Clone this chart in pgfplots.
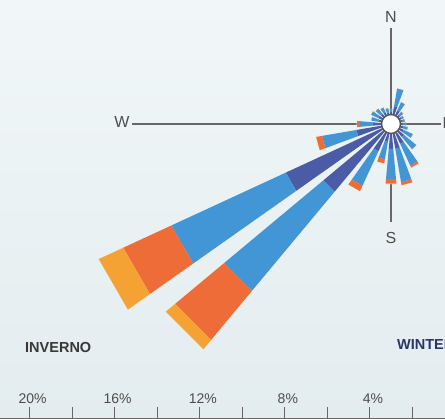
\documentclass[border=0pt]{standalone}
\usepackage{pgfplots}
\pgfplotsset{compat=1.18}
\usepackage{fontspec}
\setmainfont{Liberation Sans}
\definecolor{cdb}{HTML}{4A5CA6}
\definecolor{clb}{HTML}{4396D6}
\definecolor{cro}{HTML}{EE6C38}
\definecolor{cor}{HTML}{F5A234}
\definecolor{halo}{HTML}{F3F0E2}
\definecolor{cline}{HTML}{6B6666}
\definecolor{ctext}{HTML}{4D4D4D}
\definecolor{bgtop}{HTML}{F1F7F8}
\definecolor{bgmid}{HTML}{E6EFF2}
\definecolor{bgbot}{HTML}{E3ECEF}
\definecolor{navy}{HTML}{2B3566}
% one bar: bearing, end of dark blue, end of light blue, end of red-orange, end of orange (all in %)
\newcommand\rosebar[5]{%
  \pgfmathsetmacro\aA{90-#1-5.2}\pgfmathsetmacro\aB{90-#1+5.2}%
  \addplot[data cs=polar, fill=halo, draw=halo, line width=0.8pt] coordinates {(\aA,0.3) (\aB,0.3) (\aB,#5) (\aA,#5)};
  \addplot[data cs=polar, fill=cdb, draw=none] coordinates {(\aA,0.3) (\aB,0.3) (\aB,#2) (\aA,#2)};
  \addplot[data cs=polar, fill=clb, draw=none] coordinates {(\aA,#2) (\aB,#2) (\aB,#3) (\aA,#3)};
  \addplot[data cs=polar, fill=cro, draw=none] coordinates {(\aA,#3) (\aB,#3) (\aB,#4) (\aA,#4)};
  \addplot[data cs=polar, fill=cor, draw=none] coordinates {(\aA,#4) (\aB,#4) (\aB,#5) (\aA,#5)};
}
\begin{document}
\begin{tikzpicture}[x=1pt,y=1pt]
\path[use as bounding box] (0,0) rectangle (445,419);
\clip (0,0) rectangle (445,419);
\shade[top color=bgtop, middle color=bgmid, bottom color=bgbot] (0,0) rectangle (445,419);
% compass lines
\draw[cline, line width=1.2pt] (391,391) -- (391,197);
\draw[cline, line width=1.2pt] (132,295) -- (441,295);
\begin{axis}[at={(0,0)}, anchor=south west, x=21.27pt, y=21.27pt,
  xmin=-18.383, xmax=2.539, ymin=-13.869, ymax=5.830, hide axis]
\rosebar{0}{0.56}{0.70}{0.70}{0.70}
\rosebar{15}{0.85}{1.69}{1.69}{1.69}
\rosebar{30}{0.70}{1.13}{1.13}{1.13}
\rosebar{45}{0.56}{0.75}{0.75}{0.75}
\rosebar{60}{0.55}{0.66}{0.66}{0.66}
\rosebar{75}{0.55}{0.66}{0.66}{0.66}
\rosebar{90}{0.56}{0.70}{0.70}{0.70}
\rosebar{105}{0.60}{0.80}{0.80}{0.80}
\rosebar{120}{0.66}{1.13}{1.13}{1.13}
\rosebar{135}{0.80}{1.55}{1.55}{1.55}
\rosebar{150}{1.03}{2.16}{2.26}{2.26}
\rosebar{165}{1.18}{2.77}{2.92}{2.92}
\rosebar{180}{1.18}{2.59}{2.82}{2.82}
\rosebar{195}{0.85}{1.69}{1.88}{1.88}
\rosebar{210}{1.41}{3.20}{3.48}{3.48}
\rosebar{225}{4.14}{10.20}{13.21}{13.78}
\rosebar{240}{5.45}{11.38}{13.87}{15.14}
\rosebar{255}{1.65}{3.29}{3.57}{3.57}
\rosebar{270}{0.85}{1.46}{1.60}{1.60}
\rosebar{285}{0.61}{0.94}{0.94}{0.94}
\rosebar{300}{0.66}{1.03}{1.03}{1.03}
\rosebar{315}{0.61}{0.94}{0.94}{0.94}
\rosebar{330}{0.60}{0.85}{0.85}{0.85}
\rosebar{345}{0.56}{0.75}{0.75}{0.75}
\end{axis}
% scale bar
\begin{axis}[at={(0,2)}, anchor=north west, x=21.27pt, y=1pt,
  x dir=reverse, xmin=0.4702, xmax=21.392, ymin=0, ymax=1,
  axis x line=top, hide y axis, axis line style={-},
  x axis line style={-, line width=1.8pt, color=cline},
  tick align=outside, major tick length=12pt,
  xtick style={line width=1.1pt, color=cline},
  xtick={2,4,...,20},
  xticklabels={,4\%,,8\%,,12\%,,16\%,,20\%},
  xticklabel style={font=\fontsize{14}{14}\selectfont, text=ctext, xshift=3pt}]
\addplot[draw=none] coordinates {(1,0) (20,0)};
\end{axis}
% centre circle and labels
\draw[cline!80!black, fill=white, line width=1.4pt] (391,295) circle[radius=9.5];
\node[text=ctext, font=\fontsize{16}{16}\selectfont] at (391,401.5) {N};
\node[text=ctext, font=\fontsize{16}{16}\selectfont] at (391,181) {S};
\node[text=ctext, font=\fontsize{16}{16}\selectfont] at (122,297) {W};
\node[text=ctext, font=\fontsize{16}{16}\selectfont] at (448,296) {E};
\node[anchor=west, inner sep=0pt, text=black!78, font=\bfseries\fontsize{14.5}{14.5}\selectfont] at (25,71) {INVERNO};
\node[anchor=west, inner sep=0pt, text=navy, font=\bfseries\fontsize{14.5}{14.5}\selectfont] at (397,74) {WINTER};
\end{tikzpicture}
\end{document}
